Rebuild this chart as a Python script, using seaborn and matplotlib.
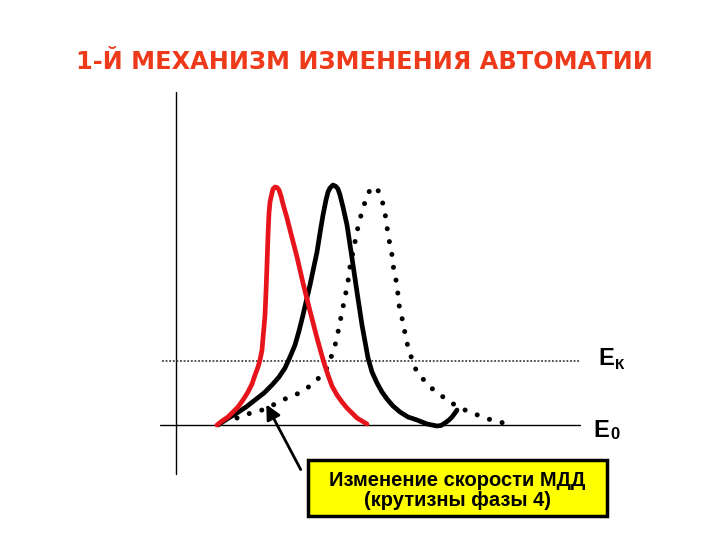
import matplotlib
matplotlib.use("Agg")
import matplotlib.pyplot as plt
import seaborn as sns
from matplotlib.patches import Rectangle

# точки кривых (x вправо, y вниз, в пикселях)
red_x = [217, 222, 228, 233, 238, 243, 248, 252, 255, 258, 260, 262, 263, 264,
         265, 266, 267, 268, 269, 270, 272, 273, 275, 277, 279, 281, 283, 287,
         290, 297, 303, 310, 317, 322, 325, 328, 332, 337, 342, 347, 352, 357,
         362, 367]
red_y = [425, 421, 417, 412, 407, 400, 392, 384, 375, 367, 360, 350, 338, 327,
         315, 292, 265, 235, 213, 202, 193, 189, 187, 187.5, 190, 196, 204, 218,
         230, 257, 283, 311, 338, 356, 366, 375, 386, 395, 402, 408, 413, 418,
         421, 424]

black_x = [218, 227, 237, 246, 255, 264, 272, 279, 285, 290, 295, 299, 303, 310,
           317, 320, 323, 326, 328, 330, 333, 336, 338, 340, 343, 347, 352, 357,
           362, 368, 372, 377, 382, 387, 393, 400, 408, 417, 427, 437, 441, 445,
           449, 452, 455, 457]
black_y = [425, 419, 413, 407, 400, 393, 385, 377, 368, 357, 345, 331, 315, 285,
           252, 233, 215, 200, 192, 188, 185, 186.5, 189, 195, 207, 225, 258, 292,
           325, 358, 372, 383, 392, 399, 406, 412, 417, 420, 424, 426, 425.5, 423,
           420, 417, 413, 410]

dot_x = [237, 247, 257, 267, 277, 287, 295, 305, 313, 320, 327, 333, 336, 338,
         340, 342, 344, 346, 348, 349, 351, 353, 355, 357, 359, 362, 365, 368,
         373, 377, 380, 383, 385, 388, 390, 392, 393, 395, 397, 398, 399, 401,
         403, 405, 407, 410, 413, 417, 423, 430, 438, 447, 455, 465, 475, 485,
         495, 504]
dot_y = [418, 414, 412, 408, 403, 398, 395, 390, 383, 377, 368, 352, 342, 332,
         322, 312, 302, 292, 282, 272, 262, 252, 242, 232, 222, 212, 202, 193,
         187, 188, 195, 204, 213, 234, 245, 255, 265, 275, 285, 295, 305, 313,
         323, 333, 343, 353, 363, 372, 379, 387, 393, 400, 405, 410, 414, 418,
         421, 423]

title = "1-Й МЕХАНИЗМ ИЗМЕНЕНИЯ АВТОМАТИИ"
box_lines = ["Изменение скорости МДД", "(крутизны фазы 4)"]

sns.set_style("white")
plt.rcParams['font.family'] = ['DejaVu Sans']

fig = plt.figure(figsize=(7.2, 5.4), dpi=100)
ax = fig.add_axes([0, 0, 1, 1])
ax.set_xlim(0, 720)
ax.set_ylim(540, 0)
ax.axis('off')

# оси и уровни потенциала
ax.plot([176, 176], [92, 474], color='black', lw=1)
ax.plot([160, 580], [425, 425], color='black', lw=1)
ax.plot([162, 580], [361, 361], color='#444444', lw=1.3, linestyle=(0, (1, 1)))

sns.lineplot(x=dot_x, y=dot_y, sort=False, ax=ax, color='black', lw=3.6,
             linestyle=(0, (0.01, 2.6)), dash_capstyle='round')
sns.lineplot(x=black_x, y=black_y, sort=False, ax=ax, color='black', lw=3.4,
             solid_capstyle='round', solid_joinstyle='round')
sns.lineplot(x=red_x, y=red_y, sort=False, ax=ax, color='#E8141B', lw=3.4,
             solid_capstyle='round', solid_joinstyle='round')

ax.annotate("", xy=(265, 402), xytext=(302, 472),
            arrowprops=dict(arrowstyle='-|>', color='black', lw=2,
                            mutation_scale=22))

ax.add_patch(Rectangle((308, 460), 299, 56, facecolor='#FFFF00',
                       edgecolor='black', lw=2.5))
ax.text(457, 480, box_lines[0], ha='center', va='center', fontsize=14.5,
        fontweight='bold', family='Liberation Sans', color='black')
ax.text(457, 501, box_lines[1], ha='center', va='center', fontsize=14.5,
        fontweight='bold', family='Liberation Sans', color='black')

ax.text(598, 365, "E", ha='left', va='baseline', fontsize=17,
        fontweight='bold', family='Liberation Sans', color='black')
ax.text(615, 369, "К", ha='left', va='baseline', fontsize=11,
        fontweight='bold', family='Liberation Sans', color='black')
ax.text(593, 437, "E", ha='left', va='baseline', fontsize=17,
        fontweight='bold', family='Liberation Sans', color='black')
ax.text(610, 439, "0", ha='left', va='baseline', fontsize=12,
        fontweight='bold', family='Liberation Sans', color='black')

ax.text(364, 62, title, ha='center', va='center', fontsize=17.3,
        fontweight='bold', color='#EE3A1A')

fig.savefig('out.png', dpi=100)
